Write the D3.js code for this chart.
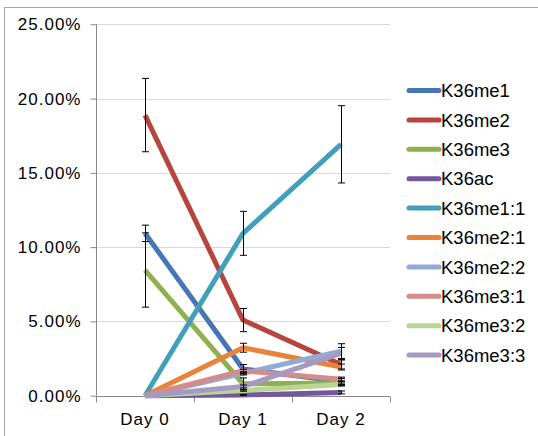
<!DOCTYPE html>
<meta charset="utf-8">
<style>
  body { margin: 0; background: #fff; }
  svg { font-family: "Liberation Sans", Arial, sans-serif; }
</style>
<svg width="538" height="436"></svg>
<script src="https://d3js.org/d3.v7.min.js"></script>
<script>

// data, in percent
var days = ["Day 0", "Day 1", "Day 2"];
var seriesNames = ["K36me1", "K36me2", "K36me3", "K36ac", "K36me1:1",
                   "K36me2:1", "K36me2:2", "K36me3:1", "K36me3:2", "K36me3:3"];
var seriesColors = ["#4676b5", "#b6453f", "#8fb04e", "#73599b", "#419fb9",
                    "#e8843a", "#90abd6", "#d48c8a", "#b9d494", "#a699c4"];
var values = [
  [10.93, 1.80, 0.95],
  [18.89, 5.09, 2.10],
  [8.46, 0.80, 0.85],
  [0.00, 0.05, 0.22],
  [0.00, 10.93, 16.92],
  [0.00, 3.23, 1.93],
  [0.00, 1.50, 3.00],
  [0.00, 1.68, 1.10],
  [0.00, 0.35, 0.75],
  [0.00, 0.62, 2.85]
];
var errors = [
  [0.55, 0.30, 0.20],
  [2.47, 0.78, 0.30],
  [2.50, 0.40, 0.15],
  [0.00, 0.02, 0.10],
  [0.00, 1.48, 2.60],
  [0.00, 0.30, 0.20],
  [0.00, 0.10, 0.50],
  [0.00, 0.10, 0.15],
  [0.00, 0.05, 0.10],
  [0.00, 0.10, 0.40]
];
var yTicks = [0, 5, 10, 15, 20, 25];

var svg = d3.select("svg");

// outer chart border
svg.append("rect")
  .attr("x", 4.5).attr("y", 7.5)
  .attr("width", 560).attr("height", 460)
  .attr("fill", "none")
  .attr("stroke", "#a6a6a6");

var x = d3.scaleBand().domain(days).range([96, 390]);
var y = d3.scaleLinear().domain([0, 25]).range([395.7, 24.3]);

// gridlines
svg.append("g")
  .selectAll("line")
  .data(yTicks.slice(1))
  .enter().append("line")
    .attr("x1", 96).attr("x2", 390)
    .attr("y1", function(d) { return Math.round(y(d)) + 0.5; })
    .attr("y2", function(d) { return Math.round(y(d)) + 0.5; })
    .attr("stroke", "#d9d9d9");

// y axis
var yAxis = svg.append("g")
  .attr("transform", "translate(96.5,0)")
  .call(d3.axisLeft(y).tickValues(yTicks).tickSize(6).tickPadding(9)
    .tickFormat(function(d) { return d.toFixed(2) + "%"; }));
yAxis.select(".domain").attr("stroke", "#888").attr("d", "M0," + y(25) + "V" + y(0));
yAxis.selectAll(".tick line").attr("stroke", "#888");
yAxis.selectAll("text").attr("font-size", 17).attr("fill", "#000")
  .attr("letter-spacing", 1)
  .attr("font-family", "Liberation Sans, Arial, sans-serif");

// x axis
var xAxis = svg.append("g")
  .attr("transform", "translate(0," + (Math.round(y(0)) + 0.5) + ")");
xAxis.append("line")
  .attr("x1", 96).attr("x2", 390)
  .attr("stroke", "#888");
xAxis.selectAll("line.tk")
  .data([96, 96 + x.bandwidth(), 96 + 2 * x.bandwidth(), 390])
  .enter().append("line")
    .attr("class", "tk")
    .attr("x1", function(d) { return Math.round(d) + 0.5; })
    .attr("x2", function(d) { return Math.round(d) + 0.5; })
    .attr("y1", 0).attr("y2", 6)
    .attr("stroke", "#888");
xAxis.selectAll("text")
  .data(days)
  .enter().append("text")
    .attr("x", function(d) { return x(d) + x.bandwidth() / 2; })
    .attr("y", 28)
    .attr("text-anchor", "middle")
    .attr("font-size", 17)
    .attr("letter-spacing", 1)
    .text(function(d) { return d; });

var cx = function(i) { return x(days[i]) + x.bandwidth() / 2; };

var line = d3.line()
  .x(function(d, i) { return cx(i); })
  .y(function(d) { return y(d); });

// series lines
svg.append("g")
  .selectAll("path")
  .data(values)
  .enter().append("path")
    .attr("d", line)
    .attr("fill", "none")
    .attr("stroke", function(d, i) { return seriesColors[i]; })
    .attr("stroke-width", 5)
    .attr("stroke-linejoin", "round");

// error bars
var bars = [];
values.forEach(function(s, si) {
  s.forEach(function(v, di) {
    if (errors[si][di] > 0) bars.push({ x: cx(di), v: v, e: errors[si][di] });
  });
});
var eb = svg.append("g").attr("stroke", "#000").attr("stroke-width", 1);
bars.forEach(function(b) {
  var xx = Math.round(b.x) + 0.5;
  var top = y(b.v + b.e), bot = y(b.v - b.e);
  eb.append("line").attr("x1", xx).attr("x2", xx).attr("y1", top).attr("y2", bot);
  eb.append("line").attr("x1", xx - 3.5).attr("x2", xx + 3.5).attr("y1", top).attr("y2", top);
  eb.append("line").attr("x1", xx - 3.5).attr("x2", xx + 3.5).attr("y1", bot).attr("y2", bot);
});

// legend
var legend = svg.append("g")
  .selectAll("g")
  .data(seriesNames)
  .enter().append("g")
    .attr("transform", function(d, i) { return "translate(409," + (90.5 + i * 29.4) + ")"; });
legend.append("line")
  .attr("x1", 0).attr("x2", 30)
  .attr("stroke", function(d, i) { return seriesColors[i]; })
  .attr("stroke-width", 5)
  .attr("stroke-linecap", "round");
legend.append("text")
  .attr("x", 32)
  .attr("dy", "0.36em")
  .attr("font-size", 18.5)
  .text(function(d) { return d; });

</script>
